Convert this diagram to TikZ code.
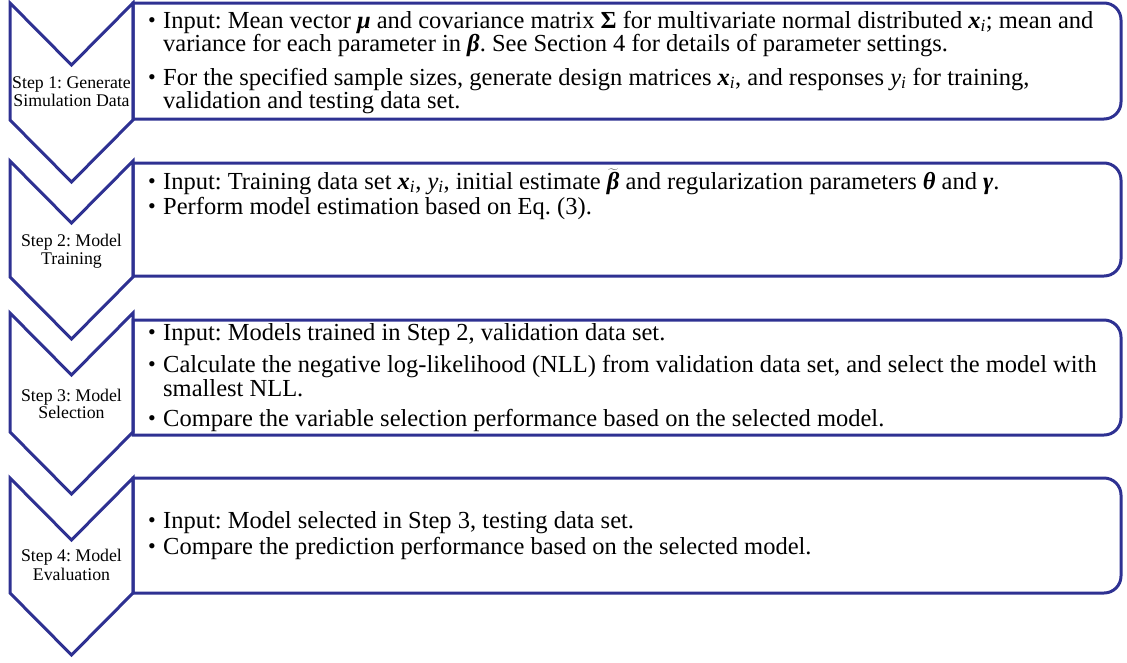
\documentclass[tikz,border=0pt]{standalone}
\usepackage{fontspec}
\setmainfont{Liberation Serif}
\frenchspacing
\definecolor{chevblue}{RGB}{46,49,146}
\tikzset{
  chev/.style={draw=chevblue, line width=3pt, line join=miter},
  txtbox/.style={draw=chevblue, line width=3pt, line join=miter},
  ln/.style={anchor=base west, inner sep=0pt, font=\fontsize{24.5}{24.5}\selectfont},
  lab/.style={anchor=base, inner sep=0pt, font=\fontsize{17.8}{18}\selectfont},
}
\newcommand\bul{\makebox[15pt][l]{\raisebox{0.8pt}{\fontsize{22}{22}\selectfont\textbullet}}}
\newcommand\ind{\hspace*{15pt}}
\newcommand\isub[1]{\textsubscript{\itshape #1}}
\newcommand\bi[1]{\textbf{\textit{#1}}}
\begin{document}
\begin{tikzpicture}[x=1pt,y=-1pt]
\useasboundingbox (0,0) rectangle (1127,662);
% chevrons
\draw[chev] (10,3) -- (71.5,65) -- (133,3) -- (133,120) -- (71.5,182) -- (10,120) -- cycle;
\draw[chev] (10,161) -- (71.5,223) -- (133,161) -- (133,277) -- (71.5,339) -- (10,277) -- cycle;
\draw[chev] (10,313) -- (71.5,375) -- (133,313) -- (133,432) -- (71.5,494) -- (10,432) -- cycle;
\draw[chev] (10,478) -- (71.5,540) -- (133,478) -- (133,593) -- (71.5,655) -- (10,593) -- cycle;
% boxes
\draw[txtbox] (133,3) -- (1104,3) arc[start angle=-90,end angle=0,radius=17] -- (1121,102) arc[start angle=0,end angle=90,radius=17] -- (133,119) -- cycle;
\draw[txtbox] (133,163) -- (1104,163) arc[start angle=-90,end angle=0,radius=17] -- (1121,259) arc[start angle=0,end angle=90,radius=17] -- (133,276) -- cycle;
\draw[txtbox] (133,320) -- (1104,320) arc[start angle=-90,end angle=0,radius=17] -- (1121,418) arc[start angle=0,end angle=90,radius=17] -- (133,435) -- cycle;
\draw[txtbox] (133,478) -- (1104,478) arc[start angle=-90,end angle=0,radius=17] -- (1121,576) arc[start angle=0,end angle=90,radius=17] -- (133,593) -- cycle;
% step labels
\node[lab] (s1a) at (71.5,88) {Step 1: Generate};
\node[lab] (s1b) at (71.5,106) {Simulation Data};
\node[lab] (s2a) at (71.5,246) {Step 2: Model};
\node[lab] (s2b) at (71.5,264) {Training};
\node[lab] (s3a) at (71.5,401) {Step 3: Model};
\node[lab] (s3b) at (71.5,418) {Selection};
\node[lab] (s4a) at (71.5,561) {Step 4: Model};
\node[lab] (s4b) at (71.5,580) {Evaluation};
% box 1
\node[ln] (t1a) at (148,28) {\bul Input: Mean vector \bi{μ} and covariance matrix \textbf{Σ} for multivariate normal distributed \bi{x}\isub{i}; mean and};
\node[ln] (t1b) at (148,51) {\ind variance for each parameter in \bi{β}. See Section 4 for details of parameter settings.};
\node[ln] (t1c) at (148,85) {\bul For the specified sample sizes, generate design matrices \bi{x}\isub{i}, and responses \textit{y}\isub{i} for training,};
\node[ln] (t1d) at (148,108) {\ind validation and testing data set.};
% box 2
\node[ln] (t2a) at (148,189) {\bul Input: Training data set \bi{x}\isub{i}, \textit{y}\isub{i}, initial estimate $\widetilde{\mbox{\bfseries\itshape β}}$ and regularization parameters \bi{θ} and \bi{γ}.};
\node[ln] (t2b) at (148,214) {\bul Perform model estimation based on Eq. (3).};
% box 3
\node[ln] (t3a) at (148,340) {\bul Input: Models trained in Step 2, validation data set.};
\node[ln] (t3b) at (148,372) {\bul Calculate the negative log-likelihood (NLL) from validation data set, and select the model with};
\node[ln] (t3c) at (148,396) {\ind smallest NLL.};
\node[ln] (t3d) at (148,426) {\bul Compare the variable selection performance based on the selected model.};
% box 4
\node[ln] (t4a) at (148,528) {\bul Input: Model selected in Step 3, testing data set.};
\node[ln] (t4b) at (148,554) {\bul Compare the prediction performance based on the selected model.};
\end{tikzpicture}
\end{document}
